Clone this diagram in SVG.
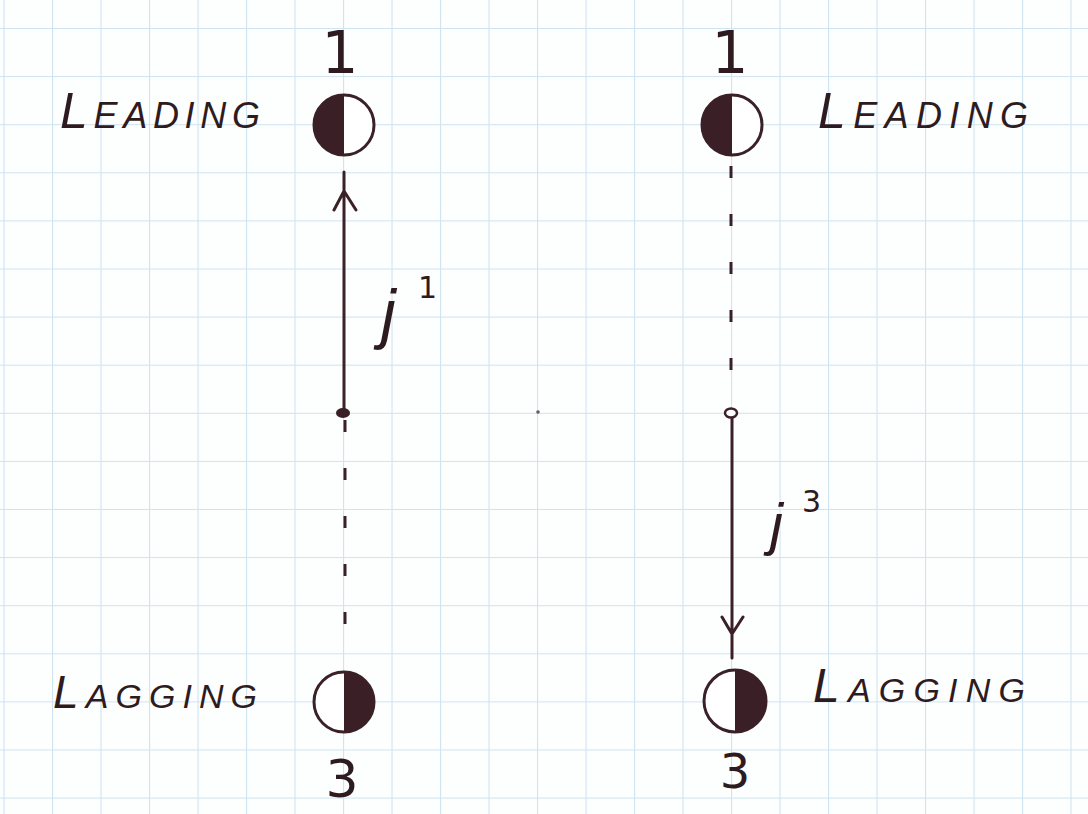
<svg xmlns="http://www.w3.org/2000/svg" width="1088" height="814" viewBox="0 0 1088 814">
<style>
.ink{stroke:#3a2128;stroke-width:3;fill:none;stroke-linecap:round}
.dash{stroke:#3a2128;stroke-width:3;fill:none;stroke-dasharray:12 36}
.fill{fill:#3a1f27}
.ring{fill:#fff;stroke:#3a2128;stroke-width:3}
.lbl{font-family:"Liberation Sans",Arial,sans-serif;font-style:italic;fill:#2e1b20}
.num{font-family:"DejaVu Sans","Liberation Sans",sans-serif;fill:#2e1b20}
</style>
<defs>
<pattern id="grid" width="48.5" height="48.1" patternUnits="userSpaceOnUse" x="3.5" y="28">
<path d="M0 0V48.1M0 0H48.5" stroke="#cfe3f0" stroke-width="2.2" fill="none"/>
</pattern>
</defs>
<rect width="1088" height="814" fill="#fdfefe"/>
<rect width="1088" height="814" fill="url(#grid)"/>

<g id="connectors">
<path class="ink" d="M344 413V172M344 191L334 210M344 191L356 210"/>
<path class="dash" d="M345 420V660"/>
<path class="dash" d="M731 166V405"/>
<path class="ink" d="M732 418V658M732 634L722 617M732 634L743 617"/>
<ellipse cx="343" cy="413" rx="7" ry="5" class="fill"/>
<ellipse cx="731" cy="413" rx="6" ry="4.5" fill="#fff" stroke="#3a2128" stroke-width="2.5"/>
<circle cx="538" cy="412" r="1.8" fill="#6a5a60"/>
</g>

<g id="leading-left">
<circle cx="344" cy="125" r="30" class="ring"/>
<path d="M344 95A30 30 0 0 0 344 155Z" class="fill"/>
<text class="num" x="340" y="73" font-size="58" text-anchor="middle">1</text>
<text class="lbl" x="60" y="128" textLength="200" lengthAdjust="spacing"><tspan font-size="50">L</tspan><tspan font-size="36">EADING</tspan></text>
</g>

<g id="lagging-left">
<circle cx="344" cy="702" r="30" class="ring"/>
<path d="M344 672A30 30 0 0 1 344 732Z" class="fill"/>
<text class="num" x="342" y="797" font-size="52" text-anchor="middle">3</text>
<text class="lbl" x="53" y="708" textLength="204" lengthAdjust="spacing"><tspan font-size="46">L</tspan><tspan font-size="34">AGGING</tspan></text>
</g>

<g id="leading-right">
<circle cx="732" cy="125" r="30" class="ring"/>
<path d="M732 95A30 30 0 0 0 732 155Z" class="fill"/>
<text class="num" x="730" y="73" font-size="58" text-anchor="middle">1</text>
<text class="lbl" x="818" y="128" textLength="210" lengthAdjust="spacing"><tspan font-size="50">L</tspan><tspan font-size="36">EADING</tspan></text>
</g>

<g id="lagging-right">
<circle cx="735" cy="701" r="31" class="ring"/>
<path d="M735 670A31 31 0 0 1 735 732Z" class="fill"/>
<text class="num" x="735" y="788" font-size="48" text-anchor="middle">3</text>
<text class="lbl" x="813" y="702" textLength="212" lengthAdjust="spacing"><tspan font-size="48">L</tspan><tspan font-size="34">AGGING</tspan></text>
</g>

<g id="label-j1">
<text class="lbl" x="381" y="336" font-size="66">j</text>
<text class="num" x="418" y="298" font-size="30">1</text>
</g>

<g id="label-j3">
<text class="lbl" x="770" y="544" font-size="58">j</text>
<text class="num" x="802" y="512" font-size="30">3</text>
</g>
</svg>
